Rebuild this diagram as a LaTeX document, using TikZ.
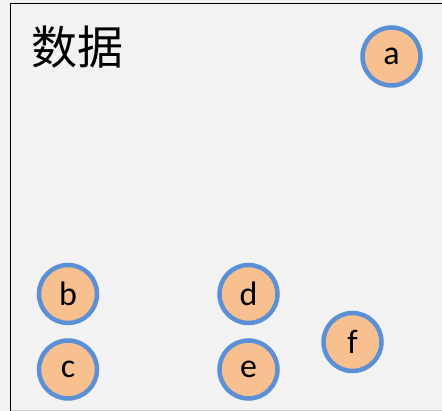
\documentclass[tikz,border=0pt]{standalone}
\usepackage{fontspec}
\setmainfont{Carlito}
\newfontfamily\cjk{Noto Sans CJK SC}
\definecolor{bgray}{HTML}{F2F2F2}
\definecolor{peach}{HTML}{F8C08F}
\definecolor{ringblue}{HTML}{5B8FD6}
\tikzset{
  ball/.style={circle, draw=ringblue, fill=peach, line width=4.5pt, minimum size=58pt, inner sep=0pt, font=\fontsize{34}{34}\selectfont},
}
\begin{document}
\begin{tikzpicture}[x=1pt,y=-1pt]
\useasboundingbox (0,0) rectangle (442,411);
\fill[bgray] (0,0) rectangle (442,411);
\draw[line width=1.5pt] (10.5,411) -- (10.5,3.5) -- (442,3.5);
\draw[line width=1pt, gray!40] (11,410.5) -- (442,410.5);
\node[anchor=center, font=\cjk\fontsize{46}{46}\selectfont] (title) at (77,47) {数据};
\node[ball] (a) at (391.5,56.5) {a};
\node[ball] (b) at (68,294) {b};
\node[ball] (c) at (68,369.5) {c};
\node[ball] (d) at (248.5,294) {d};
\node[ball] (e) at (248.5,369.5) {e};
\node[ball] (f) at (352.5,342) {f};
\end{tikzpicture}
\end{document}
